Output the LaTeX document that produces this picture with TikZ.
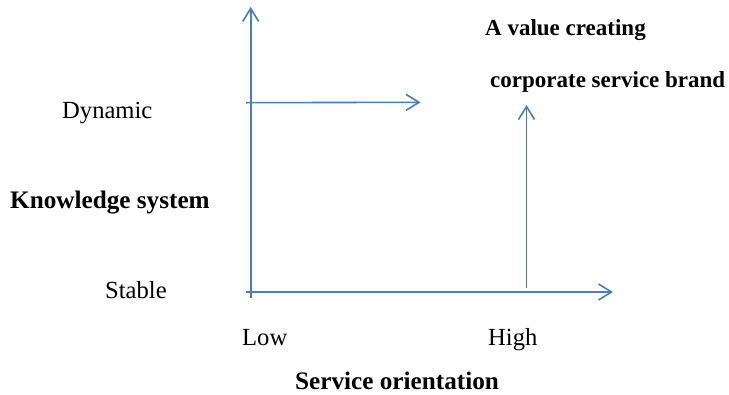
\documentclass[tikz,border=0pt]{standalone}
\usepackage{fontspec}
\setmainfont{Liberation Serif}
\usetikzlibrary{arrows.meta}
\definecolor{axisblue}{RGB}{74,126,187}
\tikzset{
  axis/.style={draw=axisblue, line width=1.6pt, -{Straight Barb[length=13pt,width=16pt]}},
  lbl/.style={anchor=base west, inner sep=0pt, font=\fontsize{24.6}{29}\selectfont},
  blbl/.style={lbl, font=\fontsize{25.2}{29}\selectfont\bfseries},
  tlbl/.style={lbl, font=\fontsize{23}{27}\selectfont\bfseries}
}
\begin{document}
\begin{tikzpicture}[x=1pt,y=-1pt]
\useasboundingbox (0,0) rectangle (729,394);
% coordinates
\coordinate (vbot) at (250.7,298);
\coordinate (vtop) at (250.7,7);
\coordinate (hstart) at (246,292);
\coordinate (hend) at (613,292);
\coordinate (dstart) at (246,102.7);
\coordinate (dend) at (420.5,102.3);
\coordinate (rbot) at (526.5,288);
\coordinate (rtop) at (526.5,105);
% axes
\draw[axis] (vbot) -- (vtop);
\draw[axis] (hstart) -- (hend);
\draw[axis] (dstart) -- (dend);
\draw[axis] (rbot) -- (rtop);
% labels
\node[tlbl] (t1) at (485,35) {A value creating};
\node[tlbl] (t2) at (490,87) {corporate service brand};
\node[lbl] (dyn) at (62,118) {Dynamic};
\node[blbl] (ks) at (10,208) {Knowledge system};
\node[lbl] (stable) at (105,298) {Stable};
\node[lbl] (low) at (242,345) {Low};
\node[lbl] (high) at (488,345) {High};
\node[blbl] (so) at (295,389) {Service orientation};
\end{tikzpicture}
\end{document}
